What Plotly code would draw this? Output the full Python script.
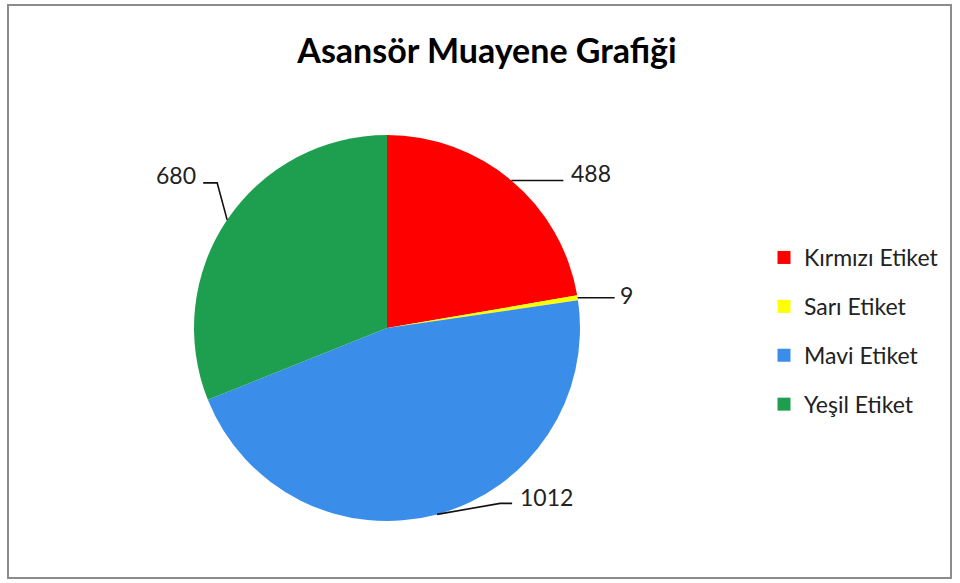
import math
import plotly.graph_objects as go

# ---- data ----
labels = ["Kırmızı Etiket", "Sarı Etiket", "Mavi Etiket", "Yeşil Etiket"]
values = [488, 9, 1012, 680]
colors = ["#FF0000", "#FFFF00", "#3A8EEA", "#1E9F50"]
title_text = "Asansör Muayene Grafiği"

# ---- layout geometry (pixels) ----
W, H = 960, 583
CX, CY, R = 387, 328, 193
FONT = "Lato, 'Open Sans', sans-serif"

def px(x):
    return x / W

def py(y):
    return 1 - y / H

# leader-line styling per slice: elbow offsets from slice edge point, text offsets
leader_style = [
    dict(pts=[(52, 0)], anchor="left", tx=6, ty=-7),
    dict(pts=[(37, 0)], anchor="left", tx=3, ty=-3),
    dict(pts=[(63, -11), (75, -11)], anchor="left", tx=6, ty=-6),
    dict(pts=[(-10, -37), (-24, -37)], anchor="right", tx=-5, ty=-8),
]

fig = go.Figure()

fig.add_trace(go.Pie(
    labels=labels,
    values=values,
    marker=dict(colors=colors, line=dict(width=0)),
    sort=False,
    direction="clockwise",
    rotation=0,
    textinfo="none",
    hoverinfo="label+value",
    showlegend=False,
    domain=dict(x=[px(CX - R), px(CX + R)], y=[py(CY + R), py(CY - R)]),
))

# legend entries via invisible marker traces
for lab, col in zip(labels, colors):
    fig.add_trace(go.Scatter(
        x=[None], y=[None], mode="markers", name=lab, legendgroup=lab,
        marker=dict(symbol="square", size=13, color=col),
    ))

# data labels with leader lines computed from slice mid-angles
total = sum(values)
cum = 0
shapes = []
annotations = []
for v, st in zip(values, leader_style):
    mid = (cum + v / 2) / total * 2 * math.pi
    cum += v
    x0 = CX + R * math.sin(mid)
    y0 = CY - R * math.cos(mid)
    path = f"M {px(x0)} {py(y0)}"
    ex, ey = x0, y0
    for dx, dy in st["pts"]:
        ex, ey = x0 + dx, y0 + dy
        path += f" L {px(ex)} {py(ey)}"
    shapes.append(dict(type="path", path=path, xref="paper", yref="paper",
                       line=dict(color="#111111", width=1.6)))
    annotations.append(dict(
        x=px(ex + st["tx"]), y=py(ey + st["ty"]), xref="paper", yref="paper",
        text=str(v), showarrow=False, xanchor=st["anchor"], yanchor="middle",
        font=dict(family=FONT, size=23, color="#222222"),
    ))

# outer frame
shapes.append(dict(type="rect", xref="paper", yref="paper",
                   x0=px(8), x1=px(951), y0=py(578), y1=py(5),
                   line=dict(color="#8C8C8C", width=2)))

fig.update_layout(
    width=W, height=H,
    margin=dict(l=0, r=0, t=0, b=0),
    paper_bgcolor="white", plot_bgcolor="white",
    title=dict(text=f"<b>{title_text}</b>", x=px(487), y=py(51),
               xanchor="center", yanchor="middle",
               font=dict(family=FONT, size=34, color="#000000")),
    xaxis=dict(visible=False), yaxis=dict(visible=False),
    legend=dict(x=px(764), y=py(236), xanchor="left", yanchor="top",
                font=dict(family=FONT, size=23, color="#222222"),
                tracegroupgap=16, bgcolor="rgba(0,0,0,0)"),
    shapes=shapes,
    annotations=annotations,
)

fig.write_html("out.html",
               config={"displayModeBar": False},
               post_script="document.body.style.margin='0';document.body.style.padding='0';")
